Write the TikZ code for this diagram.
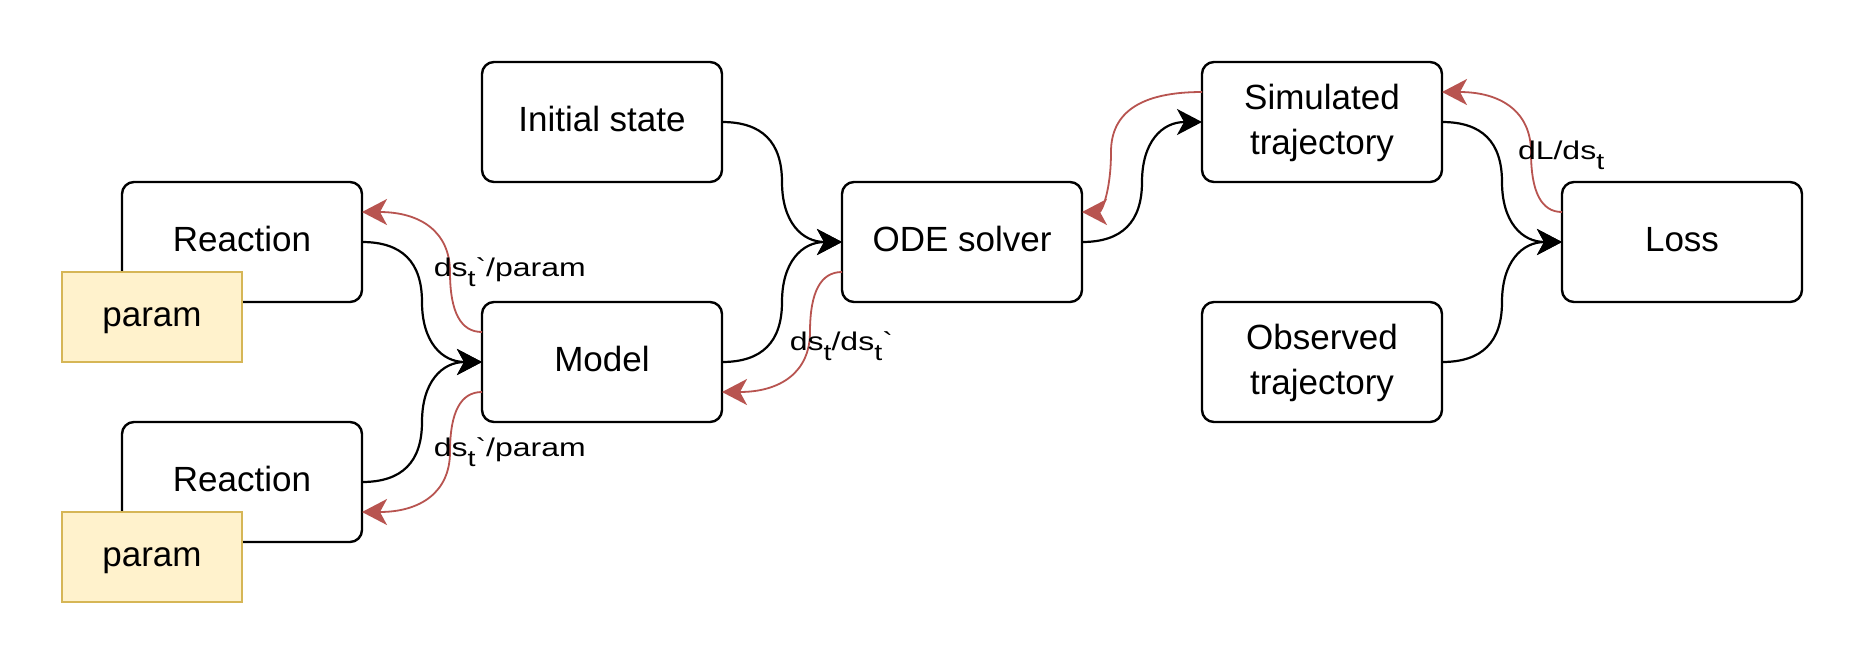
\documentclass[tikz,border=0pt]{standalone}
\usepackage{fontspec}
\usetikzlibrary{arrows.meta,calc}
\newfontfamily\boxfont{Liberation Sans}[Ligatures=TeXOff]
\newfontfamily\labfont{Liberation Sans}[FakeStretch=1.25,Ligatures=TeXOff]
\definecolor{redline}{HTML}{B85450}
\definecolor{pfill}{HTML}{FFF2CC}
\definecolor{pstroke}{HTML}{D6B656}
\newcommand{\qc}[5]{%
  \draw[#1] (#2) .. controls ($(#2)!0.6667!(#3)$) and ($(#3)!0.5!(#4)!0.6667!(#3)$) .. ($(#3)!0.5!(#4)$)
    .. controls ($(#3)!0.5!(#4)!0.6667!(#4)$) and ($(#5)!0.6667!(#4)$) .. (#5);}
\newcommand{\lsub}[1]{\raisebox{-5pt}{\fontsize{11.5}{12}\selectfont #1}}
\tikzset{
  box/.style={draw, line width=1.2pt, rounded corners=6pt, minimum width=120pt, minimum height=60pt,
    inner sep=0pt, outer sep=0pt, fill=white, align=center,
    font=\boxfont\fontsize{17.5}{22.5}\selectfont},
  oneline/.style={text height=9.6pt, text depth=0pt},
  twoline/.style={text height=32.5pt, text depth=0pt},
  parambox/.style={draw=pstroke, fill=pfill, line width=1.2pt, minimum width=90pt, minimum height=45pt,
    inner sep=0pt, outer sep=0pt, font=\boxfont\fontsize{17.5}{22.5}\selectfont,
    text height=9.6pt, text depth=0pt},
  fwd/.style={line width=1.1pt, -{Stealth[length=12.5pt,width=13pt,inset=3.5pt]}},
  backedge/.style={draw=redline, line width=0.9pt, -{Stealth[length=12.5pt,width=13pt,inset=3.5pt]}},
  lab/.style={font=\labfont\fontsize{12.8}{16}\selectfont, inner sep=0pt, anchor=base west}
}
\begin{document}
\begin{tikzpicture}[x=1pt,y=-1pt]
\path[use as bounding box, fill=white] (0,0) rectangle (930,330);
% nodes
\node[box,oneline] (r1) at (121,121) {Reaction};
\node[parambox] (p1) at (76,158.5) {param};
\node[box,oneline] (init) at (301,61) {Initial state};
\node[box,oneline] (model) at (301,181) {Model};
\node[box,oneline] (r2) at (121,241) {Reaction};
\node[parambox] (p2) at (76,278.5) {param};
\node[box,oneline] (ode) at (481,121) {ODE solver};
\node[box,twoline] (sim) at (661,61) {Simulated\\trajectory};
\node[box,twoline] (obs) at (661,181) {Observed\\trajectory};
\node[box,oneline] (loss) at (841,121) {Loss};
% forward edges
\coordinate (k1) at ($(r1.east)!0.5!(model.west)$);
\qc{fwd}{r1.east}{r1.east -| k1}{model.west -| k1}{model.west}
\coordinate (k2) at ($(r2.east)!0.5!(model.west)$);
\qc{fwd}{r2.east}{r2.east -| k2}{model.west -| k2}{model.west}
\coordinate (k3) at ($(init.east)!0.5!(ode.west)$);
\qc{fwd}{init.east}{init.east -| k3}{ode.west -| k3}{ode.west}
\coordinate (k4) at ($(model.east)!0.5!(ode.west)$);
\qc{fwd}{model.east}{model.east -| k4}{ode.west -| k4}{ode.west}
\coordinate (k5) at ($(ode.east)!0.5!(sim.west)$);
\qc{fwd}{ode.east}{ode.east -| k5}{sim.west -| k5}{sim.west}
\coordinate (k6) at ($(sim.east)!0.5!(loss.west)$);
\qc{fwd}{sim.east}{sim.east -| k6}{loss.west -| k6}{loss.west}
\coordinate (k7) at ($(obs.east)!0.5!(loss.west)$);
\qc{fwd}{obs.east}{obs.east -| k7}{loss.west -| k7}{loss.west}
% backward (gradient) edges
\coordinate (ma) at ($(model.north west)!0.25!(model.south west)$);
\coordinate (mb) at ($(model.north west)!0.75!(model.south west)$);
\coordinate (mc) at ($(model.north east)!0.75!(model.south east)$);
\coordinate (ra) at ($(r1.north east)!0.25!(r1.south east)$);
\coordinate (rb) at ($(r2.north east)!0.75!(r2.south east)$);
\coordinate (oa) at ($(ode.north west)!0.75!(ode.south west)$);
\coordinate (ob) at ($(ode.north east)!0.25!(ode.south east)$);
\coordinate (sa) at ($(sim.north west)!0.25!(sim.south west)$);
\coordinate (sb) at ($(sim.north east)!0.25!(sim.south east)$);
\coordinate (la) at ($(loss.north west)!0.25!(loss.south west)$);
\coordinate (v1) at ($(ma)+(-16,0)$);
\qc{backedge}{ma}{v1}{ra -| v1}{ra}
\coordinate (v2) at ($(mb)+(-16,0)$);
\qc{backedge}{mb}{v2}{rb -| v2}{rb}
\coordinate (v3) at ($(oa)+(-16,0)$);
\qc{backedge}{oa}{v3}{mc -| v3}{mc}
\coordinate (v4) at ($(ob)+(14.5,0)$);
\qc{backedge}{sa}{sa -| v4}{v4}{ob}
\coordinate (v5) at ($(la)+(-15.5,0)$);
\qc{backedge}{la}{v5}{sb -| v5}{sb}
% labels
\node[lab] (l1) at (216.7,138.3) {ds\lsub{t}`/param};
\node[lab] (l2) at (216.7,228) {ds\lsub{t}`/param};
\node[lab] (l3) at (394.7,175) {ds\lsub{t}/ds\lsub{t}`};
\node[lab] (l4) at (758.8,79.5) {dL/ds\lsub{t}};
\end{tikzpicture}
\end{document}
